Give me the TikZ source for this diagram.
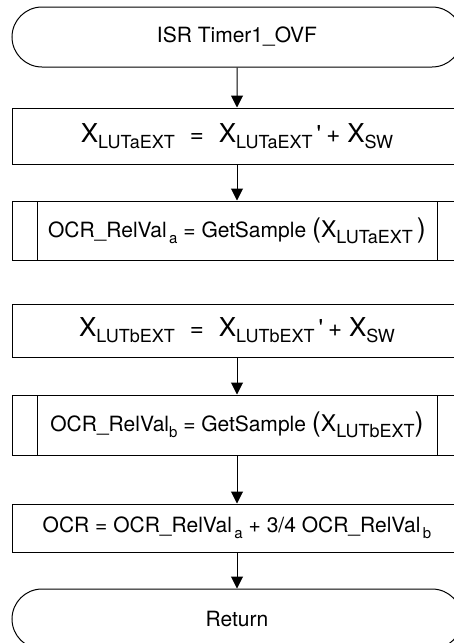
\documentclass[tikz,border=0pt]{standalone}
\usepackage{fontspec}
\setmainfont{TeX Gyre Heros}
\usetikzlibrary{shapes.misc}
\usetikzlibrary{arrows.meta}
\usetikzlibrary{positioning}

\newcommand{\lowsub}[2][18]{\raisebox{-6pt}{\fontsize{#1}{#1}\selectfont #2}}
\newcommand{\bigx}[1][26]{{\fontsize{#1}{#1}\selectfont X}}
\newcommand{\bigpar}[1]{{\fontsize{27}{27}\selectfont #1}}
\newcommand{\xline}[1]{{\fontsize{24}{26}\selectfont
  \bigx\lowsub{LUT#1EXT}\hspace{15pt}=\hspace{15pt}\bigx\lowsub{LUT#1EXT}\hspace{4pt}\textquotesingle\hspace{5pt}+\hspace{7pt}\bigx\lowsub{SW}}}

\tikzset{
  term/.style={draw, rounded rectangle, minimum width=450pt,
    minimum height=60pt, inner sep=0pt},
  proc/.style={draw, rectangle, minimum width=450pt, inner sep=0pt},
  subproc/.style={proc, path picture={
      \draw ([xshift=25pt]path picture bounding box.north west)
         -- ([xshift=25pt]path picture bounding box.south west)
            ([xshift=-25pt]path picture bounding box.north east)
         -- ([xshift=-25pt]path picture bounding box.south east);}},
}

\begin{document}
\begin{tikzpicture}
    [x=1pt, y=1pt, line width=1pt,
     >={Triangle[length=12pt,width=12pt]},
     every node/.style={font=\fontsize{21}{25}\selectfont}]
    \useasboundingbox (0,0) rectangle (454,-643);

    \node (start) [term] at (237,-37) {ISR Timer1\_OVF};
    \node (xa) [proc, minimum height=56pt, below=40pt of start] {\xline{a}};
    \node (sa) [subproc, minimum height=59pt, below=36pt of xa]
      {OCR\_RelVal\lowsub[15]{\,a} = GetSample \bigpar{(}\bigx[23]\lowsub{LUTaEXT}\hspace{4pt}\bigpar{)}};
    \node (xb) [proc, minimum height=53pt, below=43pt of sa] {\xline{b}};
    \node (sb) [subproc, minimum height=60pt, below=37pt of xb]
      {OCR\_RelVal\lowsub[15]{b} = GetSample \bigpar{(}\bigx[23]\lowsub{LUTbEXT}\bigpar{)}};
    \node (ocr) [proc, minimum height=48pt, below=48pt of sb]
      {OCR = OCR\_RelVal\lowsub[15]{\,a} + 3/4 OCR\_RelVal\lowsub[15]{\,b}};
    \node (ret) [term, below=36pt of ocr] {Return};

    \draw [->] (start) -- (xa);
    \draw [->] (xa) -- (sa);
    \draw [->] (xb) -- (sb);
    \draw [->] (sb) -- (ocr);
    \draw [->] (ocr) -- (ret);
\end{tikzpicture}
\end{document}
